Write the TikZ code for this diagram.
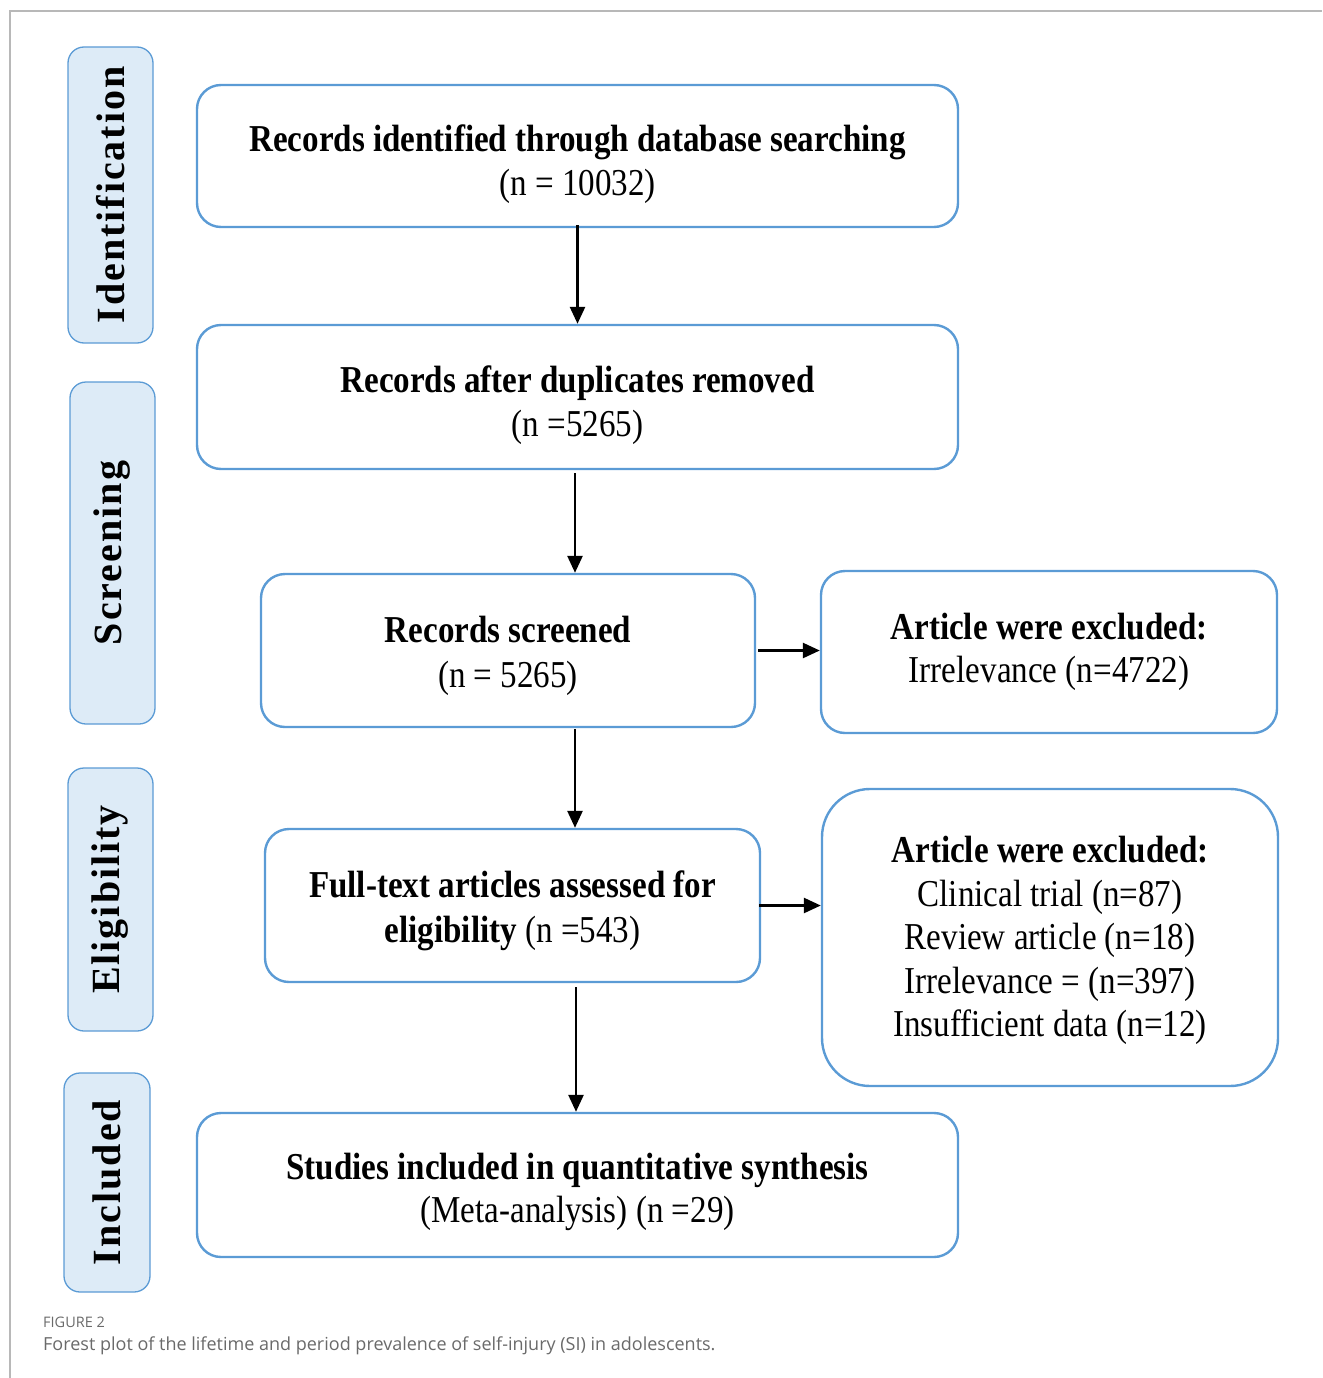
\documentclass[tikz,border=0pt]{standalone}
\usepackage{fontspec}
\setmainfont{Liberation Serif}
\newfontfamily\cond[FakeStretch=0.87]{Liberation Serif}
\newfontfamily\spaced[LetterSpace=5]{Liberation Serif}
\newfontfamily\capfont{Open Sans}
\usetikzlibrary{arrows.meta}
\definecolor{boxblue}{HTML}{5B9BD5}
\definecolor{sidefill}{HTML}{DDEBF7}
\definecolor{capgray}{HTML}{6A6A6A}
\tikzset{
  mainbox/.style={draw=boxblue, line width=2.4pt, rounded corners=24pt, inner sep=0pt},
  boxtext/.style={align=center, font=\cond\fontsize{38}{43.5}\selectfont, inner sep=0pt},
  sidebox/.style={draw=boxblue, line width=1.3pt, fill=sidefill, rounded corners=16pt, inner sep=0pt},
  sidelabel/.style={rotate=90, font=\spaced\bfseries\fontsize{40}{40}\selectfont},
  flow/.style={line width=2.6pt, -{Triangle[length=17pt,width=15pt]}},
}
\begin{document}
\begin{tikzpicture}[x=1pt,y=-1pt]
\useasboundingbox (0,0) rectangle (1322,1378);
% frame
\draw[color=black!28, line width=1.2pt] (10,1378) -- (10,11) -- (1322,11);

% side boxes
\node[sidebox, minimum width=85pt, minimum height=296pt] (s1) at (110.5,195) {};
\node[sidelabel] (l1) at (s1.center) {Identification};
\node[sidebox, minimum width=85pt, minimum height=342pt] (s2) at (112.5,553) {};
\node[sidelabel] (l2) at (s2.center) {Screening};
\node[sidebox, minimum width=85pt, minimum height=263pt] (s3) at (110.5,899.5) {};
\node[sidelabel] (l3) at (s3.center) {Eligibility};
\node[sidebox, minimum width=86pt, minimum height=219pt] (s4) at (107,1182.5) {};
\node[sidelabel] (l4) at (s4.center) {Included};

% main boxes
\node[mainbox, minimum width=761pt, minimum height=142pt] (b1) at (577.5,156) {};
\node[boxtext] (t1) at ([yshift=-8pt]b1.center)
  {\textbf{Records identified through database searching}\\(n = 10032)};
\node[mainbox, minimum width=761pt, minimum height=144pt] (b2) at (577.5,397) {};
\node[boxtext] (t2) at ([yshift=-8pt]b2.center)
  {\textbf{Records after duplicates removed}\\(n =5265)};
\node[mainbox, minimum width=494pt, minimum height=153pt] (b3) at (508,650.5) {};
\node[boxtext] (t3) at ([yshift=-5pt]b3.center)
  {\textbf{Records screened}\\[1.5pt](n = 5265)};
\node[mainbox, minimum width=456pt, minimum height=162pt] (b4) at (1049,652) {};
\node[boxtext] (t4) at (b4.center)
  {\textbf{Article were excluded:}\\Irrelevance (n=4722)};
\node[mainbox, minimum width=495pt, minimum height=153pt] (b5) at (512.5,905.5) {};
\node[boxtext] (t5) at ([yshift=-5pt]b5.center)
  {\textbf{Full-text articles assessed for}\\[1.5pt]\textbf{eligibility} (n =543)};
\node[mainbox, rounded corners=48pt, minimum width=456pt, minimum height=297pt] (b6) at (1050,937.5) {};
\node[boxtext] (t6) at ([yshift=-3pt]b6.center)
  {\textbf{Article were excluded:}\\Clinical trial (n=87)\\Review article (n=18)\\Irrelevance = (n=397)\\Insufficient data (n=12)};
\node[mainbox, minimum width=761pt, minimum height=144pt] (b7) at (577.5,1185) {};
\node[boxtext] (t7) at ([yshift=-7pt]b7.center)
  {\textbf{Studies included in quantitative synthesis}\\(Meta-analysis) (n =29)};

% connector anchors
\coordinate (c2) at (575,473);
\coordinate (c3) at (575,729);
\coordinate (c5) at (576,987);

% connectors
\draw[flow] ([yshift=3pt]b1.south) -- (b2.north);
\draw[flow] (c2) -- (c2 |- b3.north);
\draw[flow] ([xshift=2pt]b3.east) -- (b3.east -| b4.west);
\draw[flow] (c3) -- (c3 |- b5.north);
\draw[flow] ([xshift=-2pt]b5.east) -- (b5.east -| b6.west);
\draw[flow] (c5) -- (c5 |- b7.north);

% caption
\node[anchor=west, inner sep=0pt, font=\capfont\fontsize{14.5}{14.5}\selectfont, text=capgray] (fig) at (43,1322) {FIGURE 2};
\node[anchor=west, inner sep=0pt, font=\capfont\fontsize{18}{18}\selectfont, text=capgray] (cap) at (43,1346)
  {Forest plot of the lifetime and period prevalence of self-injury (SI) in adolescents.};
\end{tikzpicture}
\end{document}
